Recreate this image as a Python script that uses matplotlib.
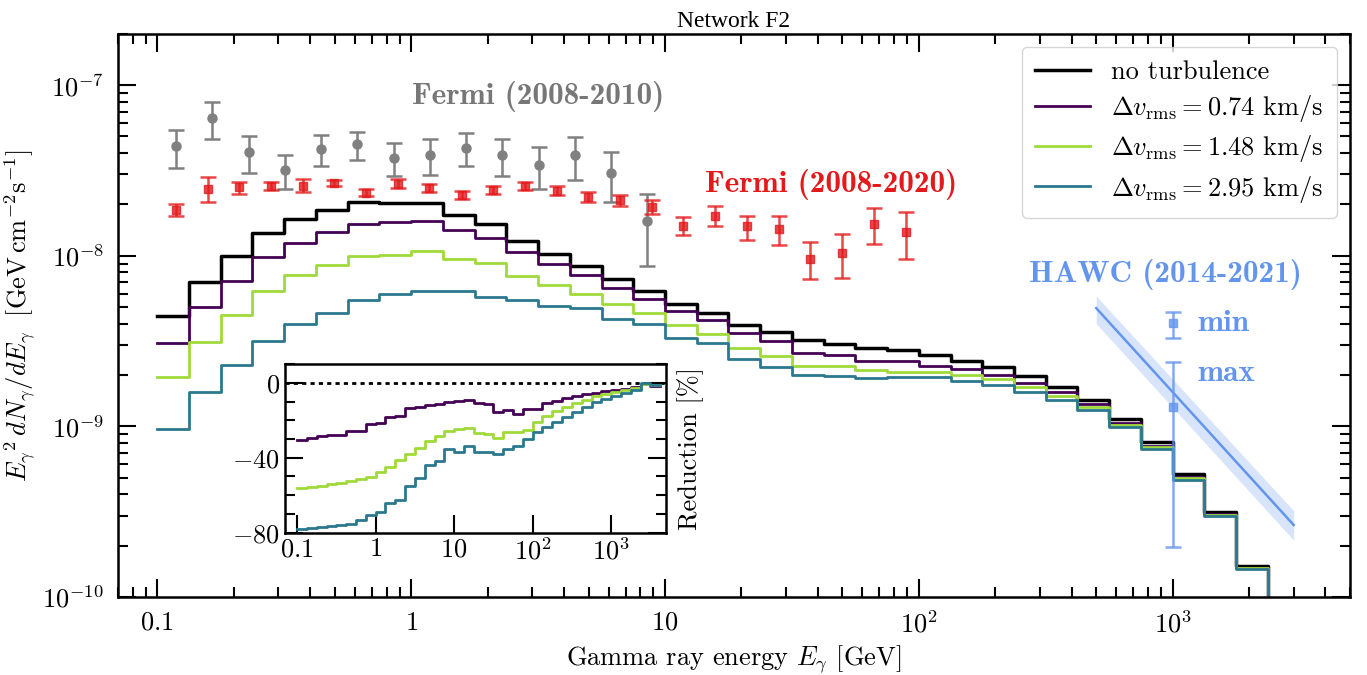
import numpy as np
import matplotlib
matplotlib.use("Agg")
import matplotlib.pyplot as plt
from matplotlib.ticker import FixedLocator, FuncFormatter, MultipleLocator

plt.rcParams['font.family'] = 'serif'
plt.rcParams['font.serif'] = ['cmr10']
plt.rcParams['mathtext.fontset'] = 'cm'
plt.rcParams['axes.formatter.use_mathtext'] = True
plt.rcParams['axes.unicode_minus'] = False
plt.rcParams['font.size'] = 19

# model spectrum without turbulence, 8 bins per decade starting at 0.1 GeV
flux_no_turb = [4.45e-9, 7.06e-9, 1.00e-8, 1.36e-8, 1.65e-8, 1.86e-8, 2.07e-8, 2.03e-8,
                2.03e-8, 1.74e-8, 1.54e-8, 1.22e-8, 1.03e-8, 8.73e-9, 7.29e-9, 6.18e-9,
                5.22e-9, 4.61e-9, 3.94e-9, 3.56e-9, 3.21e-9, 3.05e-9, 2.88e-9, 2.79e-9,
                2.63e-9, 2.43e-9, 2.22e-9, 1.96e-9, 1.70e-9, 1.43e-9, 1.10e-9, 8.07e-10,
                5.26e-10, 3.16e-10, 1.52e-10]

# reduction in percent relative to the no-turbulence case (same binning, two more bins)
red_074 = [-30.5, -29.4, -28.5, -28.0, -27.7, -25.9, -25.5, -21.9, -21.6, -18.4, -17.5,
           -13.6, -13.0, -11.8, -11.2, -10.3, -9.5, -9.1, -10.6, -11.2, -15.7, -14.5,
           -16.6, -13.9, -13.9, -10.9, -9.8, -8.0, -6.8, -5.9, -5.2, -4.5, -3.7, -3.2,
           -2.3, -0.5, -1.6]
red_148 = [-56.4, -55.7, -55.0, -54.2, -53.5, -52.6, -51.6, -50.1, -47.8, -44.8, -41.2,
           -38.0, -34.8, -31.2, -28.2, -25.5, -24.6, -24.3, -26.6, -27.3, -29.6, -26.4,
           -26.0, -25.2, -21.1, -17.5, -14.8, -12.7, -10.9, -9.1, -7.3, -5.9, -5.0, -3.7,
           -2.9, -0.5, -1.1]
red_295 = [-78.2, -77.6, -77.1, -76.6, -76.0, -75.1, -73.3, -70.7, -69.2, -64.4, -62.6,
           -55.0, -50.9, -43.7, -41.6, -35.3, -37.1, -33.6, -37.0, -37.1, -38.0, -35.3,
           -33.5, -30.0, -26.4, -23.7, -21.0, -18.4, -15.7, -13.0, -10.3, -8.6, -7.3, -5.5,
           -4.1, -0.2, -1.1]

labels = ['no turbulence',
          r'$\Delta v_{\rm rms} = 0.74$ km/s',
          r'$\Delta v_{\rm rms} = 1.48$ km/s',
          r'$\Delta v_{\rm rms} = 2.95$ km/s']
colors = ['black', '#440154', '#9fda3a', '#2a788e']

# Fermi-LAT 2008-2010
f10_e = [0.119, 0.165, 0.229, 0.318, 0.442, 0.614, 0.853, 1.19, 1.65, 2.29, 3.18, 4.42, 6.14, 8.53]
f10_y = [4.38e-8, 6.43e-8, 4.06e-8, 3.19e-8, 4.24e-8, 4.52e-8, 3.76e-8, 3.90e-8, 4.30e-8,
         3.87e-8, 3.40e-8, 3.87e-8, 3.05e-8, 1.59e-8]
f10_hi = [5.43e-8, 7.96e-8, 5.06e-8, 3.91e-8, 5.08e-8, 5.34e-8, 4.58e-8, 4.83e-8, 5.25e-8,
          4.86e-8, 4.32e-8, 4.97e-8, 4.04e-8, 2.30e-8]
f10_lo = [3.25e-8, 4.83e-8, 3.05e-8, 2.47e-8, 3.37e-8, 3.66e-8, 2.92e-8, 2.96e-8, 3.34e-8,
          2.92e-8, 2.47e-8, 2.78e-8, 2.07e-8, 8.74e-9]

# Fermi-LAT 2008-2020
f20_e = [0.118, 0.158, 0.210, 0.281, 0.374, 0.499, 0.665, 0.887, 1.18, 1.58, 2.10, 2.81,
         3.74, 4.99, 6.65, 8.87, 11.8, 15.8, 21.0, 28.1, 37.4, 49.9, 66.5, 88.7]
f20_y = [1.86e-8, 2.46e-8, 2.53e-8, 2.55e-8, 2.58e-8, 2.67e-8, 2.34e-8, 2.65e-8, 2.49e-8,
         2.27e-8, 2.43e-8, 2.55e-8, 2.40e-8, 2.21e-8, 2.11e-8, 1.93e-8, 1.50e-8, 1.72e-8,
         1.49e-8, 1.43e-8, 9.57e-9, 1.04e-8, 1.54e-8, 1.38e-8]
f20_hi = [2.01e-8, 2.90e-8, 2.72e-8, 2.69e-8, 2.83e-8, 2.79e-8, 2.45e-8, 2.83e-8, 2.63e-8,
          2.40e-8, 2.55e-8, 2.69e-8, 2.55e-8, 2.36e-8, 2.28e-8, 2.11e-8, 1.68e-8, 1.95e-8,
          1.72e-8, 1.70e-8, 1.20e-8, 1.34e-8, 1.90e-8, 1.80e-8]
f20_lo = [1.72e-8, 2.07e-8, 2.30e-8, 2.42e-8, 2.35e-8, 2.55e-8, 2.24e-8, 2.48e-8, 2.35e-8,
          2.15e-8, 2.31e-8, 2.42e-8, 2.28e-8, 2.07e-8, 1.96e-8, 1.76e-8, 1.32e-8, 1.49e-8,
          1.24e-8, 1.15e-8, 7.30e-9, 7.40e-9, 1.17e-8, 9.60e-9]

# HAWC power-law fit and the two flux points at 1 TeV
hawc_e = [500, 3000]
hawc_fit = [4.93e-9, 2.64e-10]
hawc_fit_hi = [5.8e-9, 3.2e-10]
hawc_fit_lo = [4.0e-9, 2.15e-10]
hawc_pt_e = [1000, 1000]
hawc_pt_y = [4.03e-9, 1.30e-9]
hawc_pt_hi = [4.68e-9, 2.38e-9]
hawc_pt_lo = [3.29e-9, 1.97e-10]

n_main = len(flux_no_turb)
n_red = len(red_074)
main_edges = np.logspace(-1, -1 + n_main / 8, n_main + 1)
red_edges = np.logspace(-1, -1 + n_red / 8, n_red + 1)

flux_base = np.array(flux_no_turb)
curves = [flux_base] + [flux_base * (1 + np.array(r[:n_main]) / 100)
                        for r in (red_074, red_148, red_295)]

fig = plt.figure(figsize=(13.67, 6.75), dpi=100)
ax = fig.add_axes([0.0863, 0.1156, 0.9013, 0.8344])

for c, col, lab in zip(curves, colors, labels):
    lw = 2.5 if col == 'black' else 2.0
    ax.step(main_edges, np.append(c, 1e-13), where='post', color=col, lw=lw, label=lab)

def yerr(y, lo, hi):
    y = np.array(y)
    return [y - np.array(lo), np.array(hi) - y]

ax.errorbar(f10_e, f10_y, yerr=yerr(f10_y, f10_lo, f10_hi), fmt='o', color='grey',
            ms=6.5, elinewidth=1.8, capsize=5.5, capthick=1.8)
ax.errorbar(f20_e, f20_y, yerr=yerr(f20_y, f20_lo, f20_hi), fmt='s', color='#e31a1c',
            alpha=0.8, ms=6, elinewidth=1.8, capsize=5.5, capthick=1.8)

hawc_col = '#6495ed'
ax.fill_between(hawc_e, hawc_fit_lo, hawc_fit_hi, color=hawc_col, alpha=0.25, lw=0)
ax.plot(hawc_e, hawc_fit, color=hawc_col, lw=1.8)
ax.errorbar(hawc_pt_e, hawc_pt_y, yerr=yerr(hawc_pt_y, hawc_pt_lo, hawc_pt_hi), fmt='s',
            color=hawc_col, alpha=0.8, ms=6, elinewidth=1.8, capsize=5.5, capthick=1.8)

bold = dict(family='cmb10', fontsize=22.5, va='center')
ax.text(3.16, 8.57e-8, 'Fermi (2008-2010)', color='#777777', ha='center', **bold)
ax.text(45, 2.61e-8, 'Fermi (2008-2020)', color='#e31a1c', ha='center', **bold)
ax.text(938, 7.74e-9, 'HAWC (2014-2021)', color=hawc_col, ha='center', **bold)
ax.text(1255, hawc_pt_y[0], 'min', color=hawc_col, ha='left', **bold)
ax.text(1255, 2.03e-9, 'max', color=hawc_col, ha='left', **bold)

ax.set_xscale('log')
ax.set_yscale('log')
ax.set_xlim(0.07, 5000)
ax.set_ylim(1e-10, 2e-7)

def energy_fmt(v, pos):
    if v < 1:
        return r'$0.1$'
    if v < 50:
        return r'$%d$' % round(v)
    return r'$10^{%d}$' % round(np.log10(v))

ax.xaxis.set_major_locator(FixedLocator([0.1, 1, 10, 100, 1000]))
ax.xaxis.set_major_formatter(FuncFormatter(energy_fmt))
ax.tick_params(which='both', direction='in', top=True, right=True, width=1.5)
ax.tick_params(which='major', length=13, pad=10)
ax.tick_params(which='minor', length=7)
for s in ax.spines.values():
    s.set_linewidth(1.8)

ax.set_xlabel(r'Gamma ray energy $E_\gamma$ [GeV]')
ax.set_ylabel(r'$E_\gamma{}^2\, dN_\gamma/dE_\gamma\ \ [\mathrm{GeV\,cm^{-2}s^{-1}}]$')
ax.set_title('Network F2', family='Liberation Serif', fontsize=17, pad=5)

ax.legend(loc='upper right', handlelength=2.1, labelspacing=0.35, borderpad=0.5,
          edgecolor='#cccccc', fontsize=19)

# inset: reduction relative to the no-turbulence spectrum
ins = fig.add_axes([0.2085, 0.2108, 0.2787, 0.2499])
ins.axhline(0, color='black', lw=2, ls=(0, (1.5, 1.5)))
for r, col in zip((red_074, red_148, red_295), colors[1:]):
    ins.step(red_edges, np.append(r, r[-1]), where='post', color=col, lw=2.0)
ins.set_xscale('log')
ins.set_xlim(0.07, 5000)
ins.set_ylim(-80, 10)
ins.xaxis.set_major_locator(FixedLocator([0.1, 1, 10, 100, 1000]))
ins.xaxis.set_major_formatter(FuncFormatter(energy_fmt))
ins.yaxis.set_major_locator(FixedLocator([-80, -40, 0]))
ins.yaxis.set_minor_locator(MultipleLocator(10))
ins.tick_params(which='both', direction='in', right=True, top=False, width=1.5)
ins.tick_params(which='major', length=13)
ins.tick_params(which='minor', length=7)
ins.yaxis.set_label_position('right')
ins.set_ylabel('Reduction [%]', labelpad=8)
for s in ins.spines.values():
    s.set_linewidth(1.8)

fig.savefig('out.png', dpi=100)
